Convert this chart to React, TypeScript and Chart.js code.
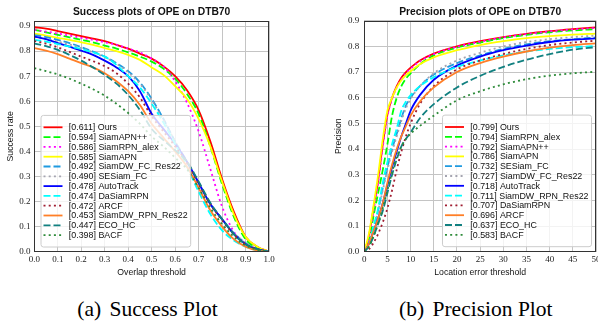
import React, { useEffect, useRef } from "react";
import { Chart, registerables } from "chart.js";

Chart.register(...registerables);

// ---------------- Success plot data ----------------
const SUCCESS_THRESHOLDS = [0, 0.05, 0.1, 0.15, 0.2, 0.25, 0.3, 0.35, 0.4, 0.45, 0.5, 0.55, 0.6, 0.65, 0.7, 0.75, 0.8, 0.85, 0.9, 0.95, 1.0];
const SUCCESS_X_TICKS = [0, 0.1, 0.2, 0.3, 0.4, 0.5, 0.6, 0.7, 0.8, 0.9, 1.0];
const SUCCESS_Y_TICKS = [0, 0.1, 0.2, 0.3, 0.4, 0.5, 0.6, 0.7, 0.8, 0.9];
const SUCCESS_TRACKERS = ["Ours", "SiamAPN++", "SiamRPN_alex", "SiamAPN", "SiamDW_FC_Res22", "SESiam_FC", "AutoTrack", "DaSiamRPN", "ARCF", "SiamDW_RPN_Res22", "ECO_HC", "BACF"];
const SUCCESS_SCORES = ["0.611", "0.594", "0.586", "0.585", "0.492", "0.490", "0.478", "0.474", "0.472", "0.453", "0.447", "0.398"];

const succOurs = [0.895, 0.89, 0.88, 0.87, 0.86, 0.85, 0.84, 0.825, 0.81, 0.79, 0.77, 0.74, 0.70, 0.645, 0.565, 0.44, 0.29, 0.16, 0.06, 0.02, 0];
const succSiamAPNpp = [0.885, 0.875, 0.865, 0.855, 0.845, 0.835, 0.822, 0.81, 0.795, 0.778, 0.758, 0.73, 0.69, 0.63, 0.55, 0.42, 0.27, 0.14, 0.05, 0.015, 0];
const succSiamRPNalex = [0.885, 0.878, 0.87, 0.862, 0.853, 0.845, 0.835, 0.825, 0.81, 0.795, 0.77, 0.74, 0.68, 0.595, 0.48, 0.33, 0.18, 0.08, 0.03, 0.01, 0];
const succSiamAPN = [0.87, 0.862, 0.853, 0.845, 0.835, 0.825, 0.812, 0.8, 0.785, 0.765, 0.735, 0.705, 0.66, 0.61, 0.53, 0.42, 0.28, 0.15, 0.06, 0.02, 0];
const succSiamDWFC = [0.864, 0.856, 0.845, 0.832, 0.816, 0.798, 0.778, 0.752, 0.72, 0.675, 0.61, 0.53, 0.44, 0.36, 0.275, 0.19, 0.13, 0.075, 0.035, 0.01, 0];
const succSESiamFC = [0.855, 0.848, 0.838, 0.826, 0.812, 0.795, 0.775, 0.75, 0.715, 0.67, 0.605, 0.525, 0.44, 0.36, 0.275, 0.19, 0.13, 0.075, 0.035, 0.01, 0];
const succAutoTrack = [0.858, 0.848, 0.832, 0.818, 0.802, 0.785, 0.762, 0.735, 0.7, 0.64, 0.55, 0.49, 0.43, 0.36, 0.275, 0.19, 0.13, 0.07, 0.03, 0.01, 0];
const succDaSiamRPN = [0.845, 0.838, 0.828, 0.818, 0.808, 0.795, 0.778, 0.745, 0.7, 0.655, 0.59, 0.515, 0.43, 0.34, 0.24, 0.15, 0.085, 0.045, 0.02, 0.005, 0];
const succARCF = [0.84, 0.83, 0.815, 0.797, 0.778, 0.76, 0.74, 0.712, 0.67, 0.615, 0.54, 0.48, 0.42, 0.355, 0.27, 0.19, 0.125, 0.07, 0.03, 0.01, 0];
const succSiamDWRPN = [0.812, 0.802, 0.788, 0.77, 0.752, 0.735, 0.712, 0.68, 0.64, 0.585, 0.51, 0.455, 0.4, 0.34, 0.255, 0.165, 0.1, 0.05, 0.02, 0.005, 0];
const succECOHC = [0.83, 0.82, 0.805, 0.785, 0.762, 0.735, 0.705, 0.67, 0.625, 0.565, 0.49, 0.445, 0.405, 0.36, 0.28, 0.195, 0.13, 0.07, 0.03, 0.01, 0];
const succBACF = [0.732, 0.72, 0.707, 0.69, 0.67, 0.648, 0.622, 0.59, 0.553, 0.51, 0.46, 0.42, 0.375, 0.33, 0.255, 0.175, 0.11, 0.06, 0.025, 0.008, 0];

const SUCCESS_CURVES = [succOurs, succSiamAPNpp, succSiamRPNalex, succSiamAPN, succSiamDWFC, succSESiamFC, succAutoTrack, succDaSiamRPN, succARCF, succSiamDWRPN, succECOHC, succBACF];

// ---------------- Precision plot data ----------------
const PRECISION_THRESHOLDS = [0, 1, 2, 3, 4, 5, 6, 7, 8, 9, 10, 12, 15, 20, 25, 30, 35, 40, 45, 50];
const PRECISION_X_TICKS = [0, 5, 10, 15, 20, 25, 30, 35, 40, 45, 50];
const PRECISION_Y_TICKS = [0, 0.1, 0.2, 0.3, 0.4, 0.5, 0.6, 0.7, 0.8, 0.9];
const PRECISION_TRACKERS = ["Ours", "SiamRPN_alex", "SiamAPN++", "SiamAPN", "SESiam_FC", "SiamDW_FC_Res22", "AutoTrack", "SiamDW_RPN_Res22", "DaSiamRPN", "ARCF", "ECO_HC", "BACF"];
const PRECISION_SCORES = ["0.799", "0.794", "0.792", "0.786", "0.732", "0.727", "0.718", "0.711", "0.707", "0.696", "0.637", "0.583"];

const precOurs = [0, 0.06, 0.17, 0.28, 0.42, 0.535, 0.6, 0.645, 0.678, 0.7, 0.717, 0.745, 0.772, 0.8, 0.82, 0.836, 0.849, 0.859, 0.867, 0.874];
const precSiamRPNalex = [0, 0.04, 0.14, 0.23, 0.32, 0.42, 0.53, 0.6, 0.645, 0.675, 0.695, 0.73, 0.765, 0.795, 0.815, 0.832, 0.845, 0.855, 0.862, 0.867];
const precSiamAPNpp = [0, 0.055, 0.16, 0.27, 0.41, 0.53, 0.595, 0.64, 0.673, 0.696, 0.713, 0.742, 0.77, 0.798, 0.818, 0.835, 0.848, 0.858, 0.866, 0.872];
const precSiamAPN = [0, 0.07, 0.18, 0.3, 0.44, 0.55, 0.6, 0.64, 0.668, 0.688, 0.703, 0.73, 0.757, 0.785, 0.805, 0.82, 0.832, 0.84, 0.846, 0.85];
const precSESiamFC = [0, 0.03, 0.09, 0.16, 0.25, 0.33, 0.4, 0.46, 0.52, 0.57, 0.6, 0.645, 0.69, 0.735, 0.765, 0.79, 0.808, 0.82, 0.828, 0.835];
const precSiamDWFC = [0, 0.03, 0.09, 0.16, 0.24, 0.32, 0.39, 0.45, 0.51, 0.56, 0.595, 0.645, 0.695, 0.745, 0.775, 0.8, 0.817, 0.828, 0.836, 0.842];
const precAutoTrack = [0, 0.03, 0.08, 0.13, 0.19, 0.26, 0.33, 0.39, 0.45, 0.5, 0.55, 0.61, 0.67, 0.725, 0.76, 0.785, 0.803, 0.817, 0.826, 0.831];
const precSiamDWRPN = [0, 0.03, 0.1, 0.17, 0.27, 0.35, 0.42, 0.48, 0.55, 0.585, 0.61, 0.645, 0.68, 0.72, 0.745, 0.765, 0.78, 0.79, 0.797, 0.801];
const precDaSiamRPN = [0, 0.01, 0.035, 0.07, 0.115, 0.17, 0.24, 0.32, 0.39, 0.45, 0.5, 0.575, 0.645, 0.71, 0.745, 0.77, 0.79, 0.805, 0.815, 0.822];
const precARCF = [0, 0.03, 0.08, 0.13, 0.19, 0.27, 0.34, 0.4, 0.45, 0.49, 0.53, 0.585, 0.64, 0.7, 0.735, 0.76, 0.78, 0.795, 0.805, 0.812];
const precECOHC = [0, 0.02, 0.06, 0.11, 0.16, 0.23, 0.3, 0.36, 0.41, 0.44, 0.465, 0.52, 0.575, 0.64, 0.685, 0.72, 0.748, 0.77, 0.787, 0.797];
const precBACF = [0, 0.02, 0.06, 0.11, 0.17, 0.24, 0.31, 0.37, 0.41, 0.44, 0.46, 0.49, 0.53, 0.59, 0.625, 0.652, 0.672, 0.686, 0.695, 0.701];

const PRECISION_CURVES = [precOurs, precSiamRPNalex, precSiamAPNpp, precSiamAPN, precSESiamFC, precSiamDWFC, precAutoTrack, precSiamDWRPN, precDaSiamRPN, precARCF, precECOHC, precBACF];

// ---------------- Styles (by rank) ----------------
const DASHED = [7, 3];
const DOTTED = [2, 3.2];
const RANK_STYLES = [
  { color: "#ff0000", dash: [] as number[] },
  { color: "#00ff00", dash: DASHED },
  { color: "#ff00ff", dash: DOTTED },
  { color: "#ffff00", dash: [] as number[] },
  { color: "#1f9ae0", dash: DASHED },
  { color: "#a4a4b0", dash: DOTTED },
  { color: "#0000ff", dash: [] as number[] },
  { color: "#00ffff", dash: DASHED },
  { color: "#a01c30", dash: DOTTED },
  { color: "#ff7f27", dash: [] as number[] },
  { color: "#118080", dash: DASHED },
  { color: "#2e8b3a", dash: DOTTED },
];

const SANS = "'Liberation Sans', Arial, sans-serif";
const SERIF = "'Liberation Serif', 'Times New Roman', serif";

const framePlugin = {
  id: "frame",
  afterDatasetsDraw(chart: any) {
    const { ctx, chartArea } = chart;
    ctx.save();
    ctx.strokeStyle = "#333333";
    ctx.lineWidth = 1;
    const l = Math.round(chartArea.left) + 0.5;
    const t = Math.round(chartArea.top) + 0.5;
    const r = Math.round(chartArea.right) - 0.5;
    const b = Math.round(chartArea.bottom) - 0.5;
    ctx.strokeRect(l, t, r - l, b - t);
    ctx.restore();
  },
};

const legendPlugin = {
  id: "boxLegend",
  afterDraw(chart: any, _args: any, opts: any) {
    const { ctx, chartArea } = chart;
    const datasets = chart.data.datasets;
    ctx.save();
    ctx.font = `${opts.fontSize}px ${SANS}`;
    let maxW = 0;
    datasets.forEach((ds: any) => {
      maxW = Math.max(maxW, ctx.measureText(ds.label).width);
    });
    const w = opts.textOffset + maxW + opts.padRight;
    const h = opts.padTop + datasets.length * opts.rowH + opts.padBottom;
    const left = opts.anchor === "left" ? chartArea.left + opts.offsetX : chartArea.right - opts.offsetX - w;
    const top = chartArea.bottom - opts.offsetBottom - h;
    ctx.beginPath();
    const rad = 2.5;
    ctx.moveTo(left + rad, top);
    ctx.lineTo(left + w - rad, top);
    ctx.quadraticCurveTo(left + w, top, left + w, top + rad);
    ctx.lineTo(left + w, top + h - rad);
    ctx.quadraticCurveTo(left + w, top + h, left + w - rad, top + h);
    ctx.lineTo(left + rad, top + h);
    ctx.quadraticCurveTo(left, top + h, left, top + h - rad);
    ctx.lineTo(left, top + rad);
    ctx.quadraticCurveTo(left, top, left + rad, top);
    ctx.closePath();
    ctx.fillStyle = "rgba(255,255,255,0.8)";
    ctx.fill();
    ctx.strokeStyle = "#cccccc";
    ctx.lineWidth = 1;
    ctx.stroke();
    datasets.forEach((ds: any, i: number) => {
      const y = top + opts.padTop + opts.rowH * (i + 0.5);
      ctx.beginPath();
      ctx.setLineDash(ds.borderDash || []);
      ctx.strokeStyle = ds.borderColor;
      ctx.lineWidth = ds.borderWidth;
      ctx.moveTo(left + opts.sampleStart, y);
      ctx.lineTo(left + opts.sampleEnd, y);
      ctx.stroke();
      ctx.setLineDash([]);
      ctx.fillStyle = "#111111";
      ctx.textBaseline = "middle";
      ctx.textAlign = "left";
      ctx.fillText(ds.label, left + opts.textOffset, y + 0.5);
    });
    ctx.restore();
  },
};

type PlotParams = {
  title: string;
  titlePad: { top: number; bottom: number };
  xTitle: string;
  yTitle: string;
  yTitlePad: number;
  xs: number[];
  curves: number[][];
  names: string[];
  scores: string[];
  xMin: number;
  xMax: number;
  yMax: number;
  xTicks: number[];
  yTicks: number[];
  xFmt: (v: number) => string;
  padding: { left: number; right: number; top: number; bottom: number };
  yTickPad: number;
  legend: any;
};

function makeConfig(p: PlotParams): any {
  return {
    type: "line",
    data: {
      datasets: p.curves.map((vals, i) => ({
        label: `[${p.scores[i]}] ${p.names[i]}`,
        data: vals.map((v, k) => ({ x: p.xs[k], y: v })),
        borderColor: RANK_STYLES[i].color,
        borderDash: RANK_STYLES[i].dash,
        borderWidth: 1.8,
        pointRadius: 0,
        fill: false,
        cubicInterpolationMode: "monotone",
        order: p.curves.length - 1 - i,
      })),
    },
    options: {
      responsive: false,
      animation: false,
      events: [],
      layout: { padding: p.padding },
      plugins: {
        legend: { display: false },
        tooltip: { enabled: false },
        title: {
          display: true,
          text: p.title,
          fullSize: false,
          color: "#111111",
          font: { family: SANS, size: 10.3, weight: "bold" },
          padding: p.titlePad,
        },
        boxLegend: p.legend,
      },
      scales: {
        x: {
          type: "linear",
          min: p.xMin,
          max: p.xMax,
          afterBuildTicks: (scale: any) => {
            scale.ticks = p.xTicks.map((v) => ({ value: v }));
          },
          afterFit: (scale: any) => {
            scale.height = 26;
            scale.paddingLeft = 0;
            scale.paddingRight = 0;
          },
          ticks: {
            autoSkip: false,
            maxRotation: 0,
            padding: 3,
            color: "#222222",
            font: { family: SERIF, size: 9 },
            callback: (v: any) => p.xFmt(Number(v)),
          },
          grid: { color: "#c4c4c4", lineWidth: 1, drawTicks: false },
          border: { display: false },
          title: {
            display: true,
            text: p.xTitle,
            color: "#111111",
            font: { family: SANS, size: 8.7 },
            padding: { top: 0, bottom: 0 },
          },
        },
        y: {
          type: "linear",
          min: 0,
          max: p.yMax,
          afterBuildTicks: (scale: any) => {
            scale.ticks = p.yTicks.map((v) => ({ value: v }));
          },
          afterFit: (scale: any) => {
            scale.width = 34.3;
          },
          ticks: {
            autoSkip: false,
            padding: p.yTickPad,
            color: "#222222",
            font: { family: SERIF, size: 9 },
            callback: (v: any) => Number(v).toFixed(1),
          },
          grid: { color: "#c4c4c4", lineWidth: 1, drawTicks: false },
          border: { display: false },
          title: {
            display: true,
            text: p.yTitle,
            color: "#111111",
            font: { family: SANS, size: 8.7 },
            padding: { top: p.yTitlePad, bottom: 0 },
          },
        },
      },
    },
    plugins: [framePlugin, legendPlugin],
  };
}

function ChartCanvas(props: { params: PlotParams; left: number; width: number; height: number }) {
  const ref = useRef<HTMLCanvasElement | null>(null);
  useEffect(() => {
    if (!ref.current) return;
    const chart = new Chart(ref.current, makeConfig(props.params));
    return () => chart.destroy();
  }, []);
  return (
    <canvas
      ref={ref}
      width={props.width}
      height={props.height}
      style={{ position: "absolute", left: props.left, top: 0, width: props.width, height: props.height, display: "block" }}
    />
  );
}

const legendCommon = {
  fontSize: 8.9,
  rowH: 9.8,
  padTop: 7,
  padBottom: 7,
  padRight: 3,
  sampleStart: 2.5,
  sampleEnd: 21.5,
  textOffset: 27.8,
};

const successParams: PlotParams = {
  title: "Success plots of OPE on DTB70",
  titlePad: { top: 5.8, bottom: 2.84 },
  xTitle: "Overlap threshold",
  yTitle: "Success rate",
  yTitlePad: 5.8,
  xs: SUCCESS_THRESHOLDS,
  curves: SUCCESS_CURVES,
  names: SUCCESS_TRACKERS,
  scores: SUCCESS_SCORES,
  xMin: 0,
  xMax: 1,
  yMax: 0.92,
  xTicks: SUCCESS_X_TICKS,
  yTicks: SUCCESS_Y_TICKS,
  xFmt: (v) => v.toFixed(1),
  padding: { left: 0, right: 11, top: 0, bottom: 0.3 },
  yTickPad: 3.8,
  legend: { ...legendCommon, anchor: "left", offsetX: 6.7, offsetBottom: 4.7 },
};

const precisionParams: PlotParams = {
  title: "Precision plots of OPE on DTB70",
  titlePad: { top: 5.6, bottom: 2.74 },
  xTitle: "Location error threshold",
  yTitle: "Precision",
  yTitlePad: 3.8,
  xs: PRECISION_THRESHOLDS,
  curves: PRECISION_CURVES,
  names: PRECISION_TRACKERS,
  scores: PRECISION_SCORES,
  xMin: 0,
  xMax: 50,
  yMax: 0.9,
  xTicks: PRECISION_X_TICKS,
  yTicks: PRECISION_Y_TICKS,
  xFmt: (v) => String(v),
  padding: { left: 30, right: 2, top: 0, bottom: 0.3 },
  yTickPad: 5,
  legend: { ...legendCommon, anchor: "right", offsetX: 4.5, offsetBottom: 5 },
};

const captionStyle: React.CSSProperties = {
  position: "absolute",
  top: 298.5,
  fontFamily: SERIF,
  fontSize: 21.5,
  lineHeight: "21.5px",
  color: "#000",
  whiteSpace: "nowrap",
  textAlign: "center",
};

export default function App() {
  return (
    <div style={{ position: "absolute", left: 0, top: 0, width: 598, height: 322, background: "#ffffff", overflow: "hidden" }}>
      <ChartCanvas params={successParams} left={0} width={280} height={278} />
      <ChartCanvas params={precisionParams} left={300} width={298} height={278} />
      <div style={{ ...captionStyle, left: 47.5, width: 200 }}>
        <span style={{ marginRight: 3 }}>(a)</span> Success Plot
      </div>
      <div style={{ ...captionStyle, left: 375.8, width: 200 }}>
        <span style={{ marginRight: 3 }}>(b)</span> Precision Plot
      </div>
    </div>
  );
}
